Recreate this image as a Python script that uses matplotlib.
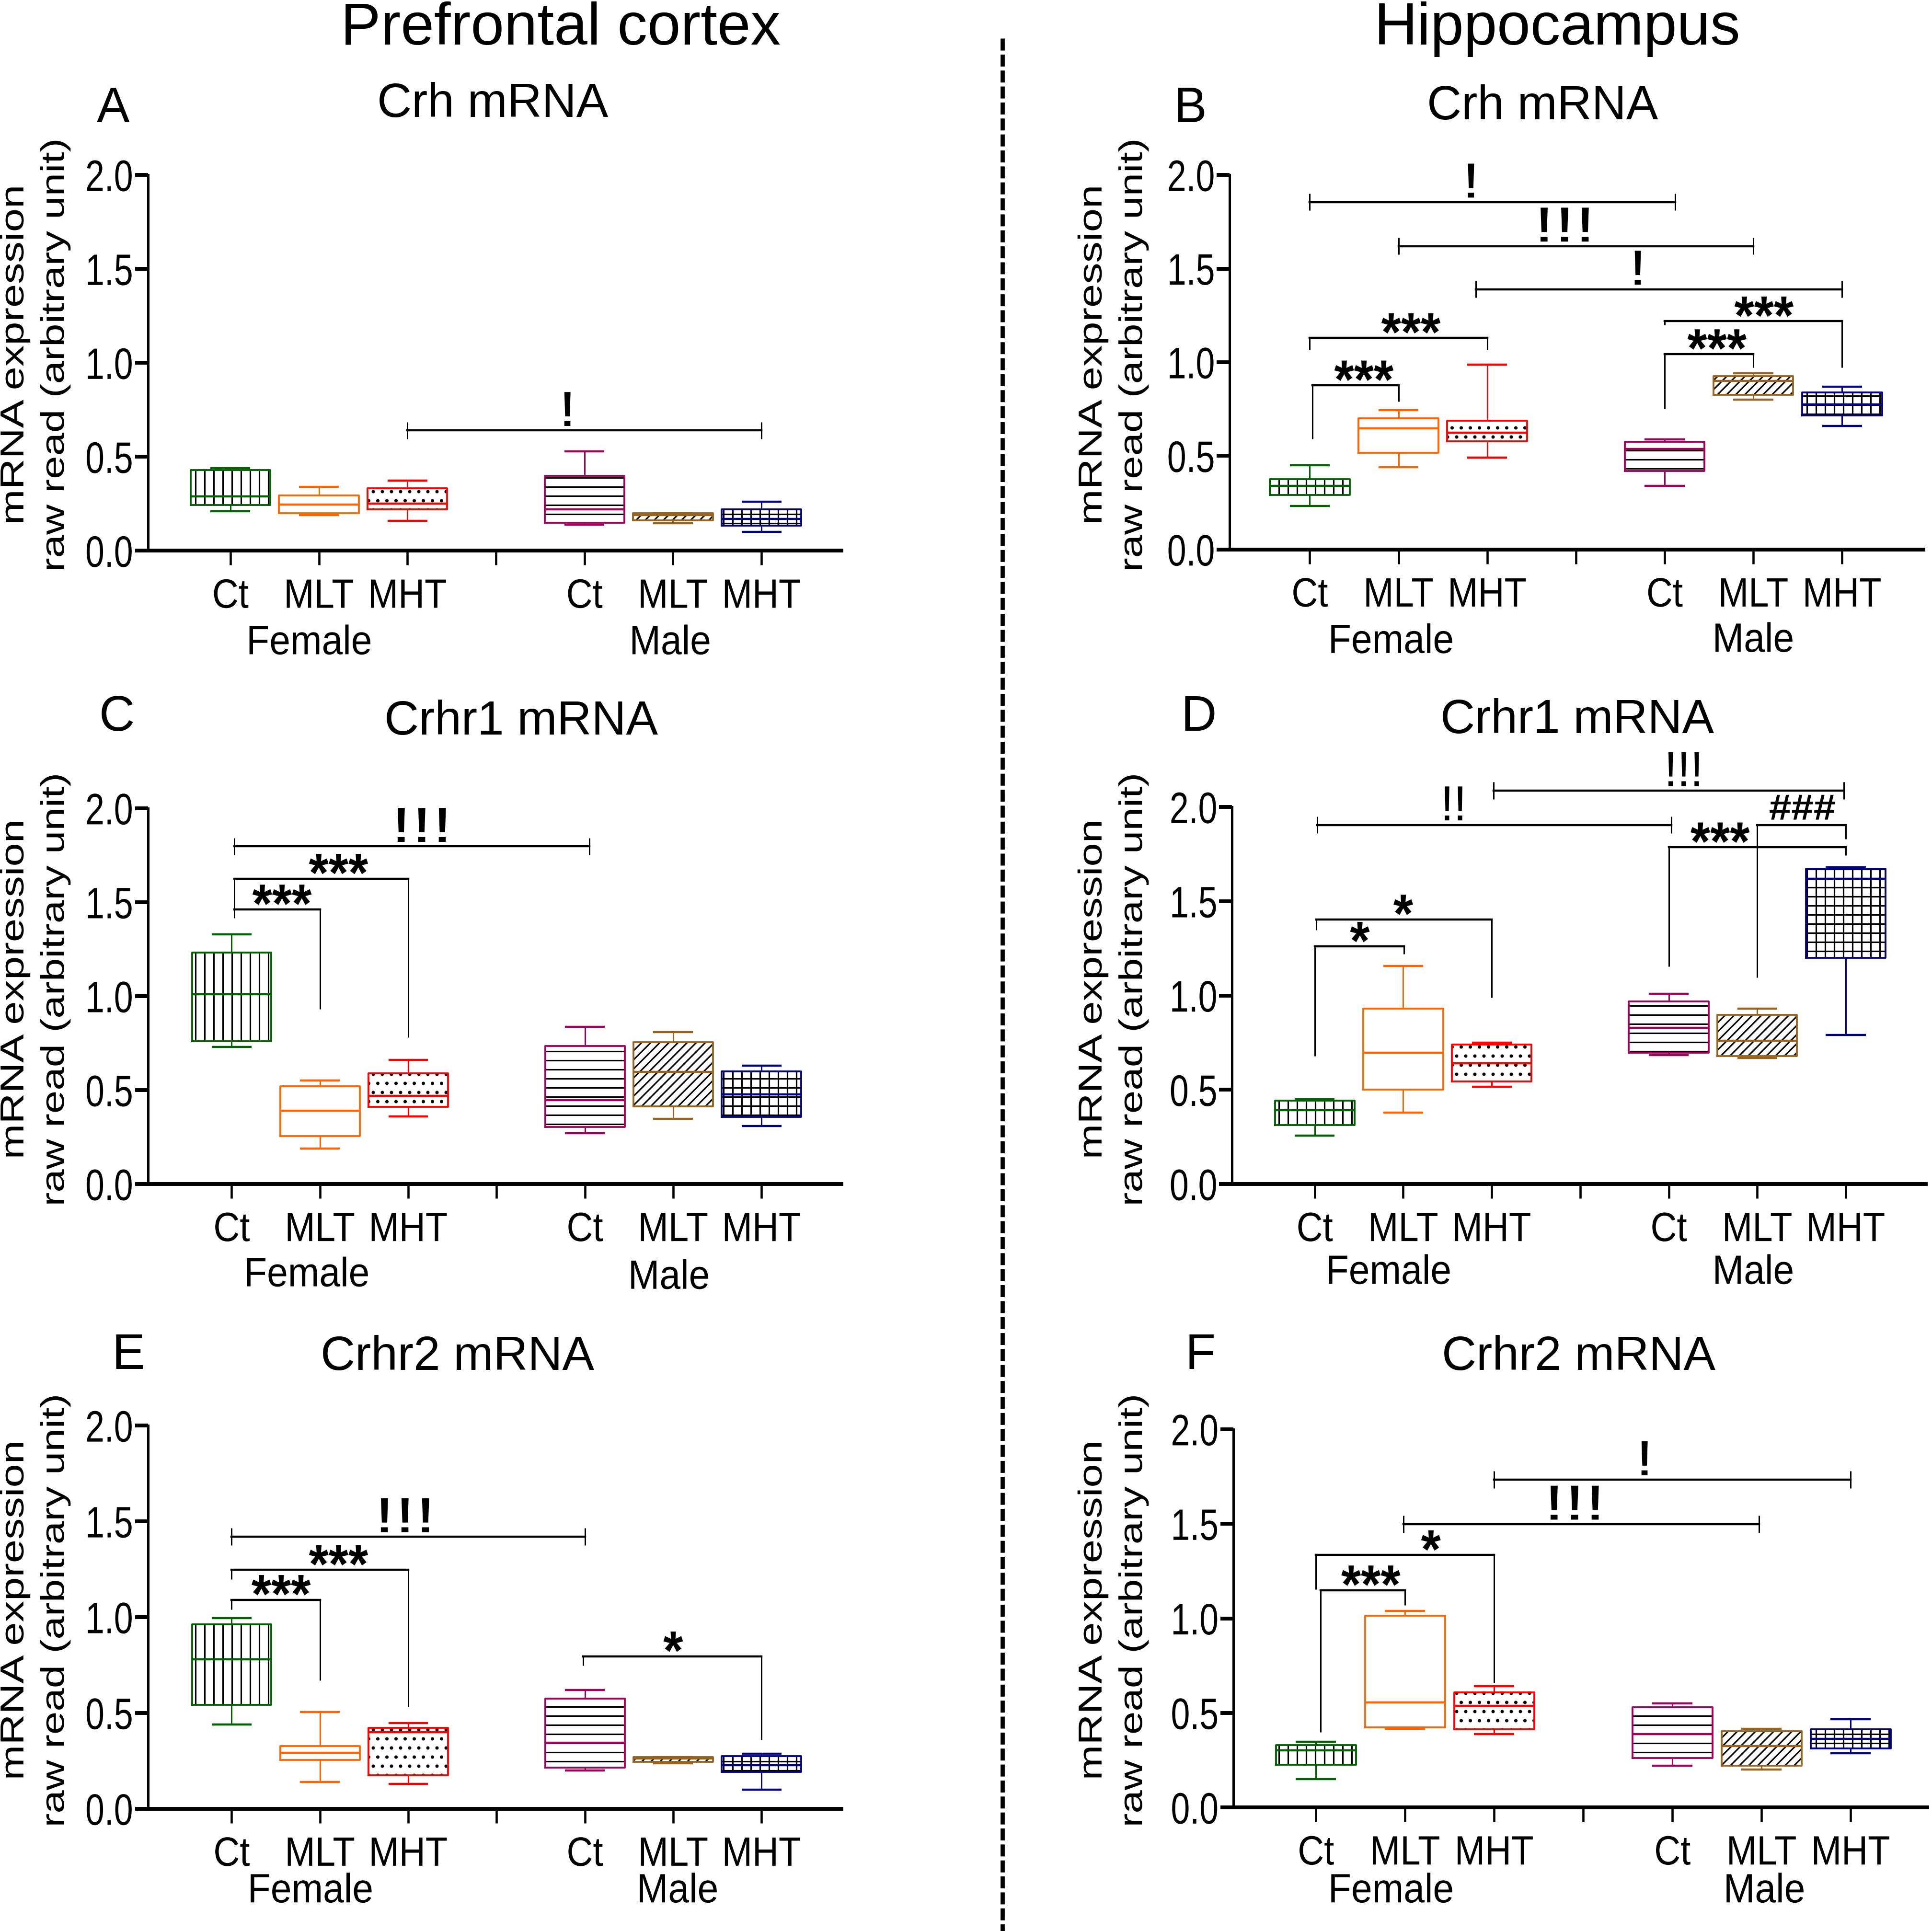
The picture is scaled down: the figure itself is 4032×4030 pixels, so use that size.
import matplotlib
matplotlib.use("Agg")
import matplotlib.pyplot as plt
from matplotlib.lines import Line2D
from matplotlib.patheffects import AbstractPathEffect
from matplotlib.transforms import Affine2D

# hatch tile follows the dpi, 114 gives the spacing of the original
DPI = 114
PX_W, PX_H = 4032, 4030
S = PX_W / 1568.0  # all layout numbers below are read on a 1568 wide view

plt.rcParams["font.family"] = ["Liberation Sans", "DejaVu Sans"]
plt.rcParams["hatch.linewidth"] = 2.0

groups = ["Ct", "MLT", "MHT", "", "Ct", "MLT", "MHT"]
positions = [1, 2, 3, 5, 6, 7]
colors = ["#005F00", "#FF6600", "#FF0000", "#A0005A", "#966420", "#000080"]
hatches = ["|", "", ".", "-", "//", "+"]

a_low = [0.21, 0.19, 0.16, 0.14, 0.147, 0.10]
a_q1 = [0.243, 0.20, 0.22, 0.15, 0.163, 0.134]
a_med = [0.29, 0.245, 0.25, 0.22, 0.19, 0.17]
a_q3 = [0.43, 0.295, 0.333, 0.40, 0.20, 0.22]
a_high = [0.44, 0.34, 0.374, 0.53, 0.20, 0.26]

b_low = [0.233, 0.439, 0.49, 0.34, 0.80, 0.66]
b_q1 = [0.292, 0.517, 0.577, 0.42, 0.825, 0.716]
b_med = [0.34, 0.646, 0.623, 0.537, 0.90, 0.775]
b_q3 = [0.376, 0.70, 0.688, 0.575, 0.927, 0.838]
b_high = [0.449, 0.745, 0.988, 0.589, 0.94, 0.87]

c_low = [0.73, 0.19, 0.36, 0.27, 0.347, 0.31]
c_q1 = [0.76, 0.256, 0.41, 0.304, 0.413, 0.357]
c_med = [1.01, 0.39, 0.47, 0.446, 0.597, 0.478]
c_q3 = [1.233, 0.52, 0.59, 0.735, 0.754, 0.60]
c_high = [1.33, 0.55, 0.66, 0.837, 0.81, 0.629]

d_low = [0.258, 0.378, 0.517, 0.685, 0.67, 0.79]
d_q1 = [0.312, 0.50, 0.544, 0.697, 0.68, 1.20]
d_med = [0.393, 0.697, 0.64, 0.83, 0.76, 1.62]
d_q3 = [0.443, 0.93, 0.74, 0.97, 0.898, 1.673]
d_high = [0.45, 1.158, 0.75, 1.01, 0.93, 1.68]

e_low = [0.44, 0.14, 0.129, 0.20, 0.238, 0.10]
e_q1 = [0.543, 0.255, 0.175, 0.214, 0.245, 0.192]
e_med = [0.78, 0.293, 0.40, 0.346, 0.263, 0.227]
e_q3 = [0.962, 0.328, 0.423, 0.575, 0.269, 0.275]
e_high = [0.996, 0.504, 0.447, 0.62, 0.27, 0.288]

f_low = [0.15, 0.416, 0.388, 0.22, 0.20, 0.287]
f_q1 = [0.225, 0.425, 0.413, 0.261, 0.222, 0.312]
f_med = [0.301, 0.556, 0.539, 0.389, 0.325, 0.362]
f_q3 = [0.331, 1.013, 0.609, 0.53, 0.404, 0.413]
f_high = [0.348, 1.039, 0.641, 0.55, 0.417, 0.468]

# capped brackets: x1, x2, y, label, label x, label stretch
a_caps = [(3, 7, 0.64, "!", 4.80, 1.3)]
b_caps = [(1, 5.12, 1.855, "!", 2.81, 1.3), (2, 6, 1.62, "!!!", 3.86, 1.5), (2.87, 7, 1.39, "!", 4.69, 1.3)]
c_caps = [(1.03, 5.05, 1.797, "!!!", 3.14, 1.5)]
d_caps = [(1.03, 5.03, 1.905, "!!", 2.57, 0.95), (3.02, 6.98, 2.087, "!!!", 5.17, 0.95)]
e_caps = [(1, 5, 1.42, "!!!", 2.95, 1.5)]
f_caps = [(3, 7, 1.733, "!", 4.68, 1.3), (1.98, 5.97, 1.498, "!!!", 3.89, 1.5)]

# square brackets: x1, x2, y, left leg end, right leg end, label, label x
a_legs = []
b_legs = [(1.03, 2, 0.877, 0.59, 0.79, "***", 1.61), (1, 3, 1.13, 1.067, 1.067, "***", 2.14),
          (5, 6, 1.044, 0.752, 0.972, "***", 5.59), (5, 7, 1.219, 1.2, 0.972, "***", 6.12)]
c_legs = [(1.03, 2, 1.462, 1.416, 0.93, "***", 1.57), (1.03, 3, 1.626, 1.46, 0.78, "***", 2.21)]
d_legs = [(1, 2.01, 1.26, 0.68, 1.22, "*", 1.51), (1.02, 3, 1.404, 1.347, 0.99, "*", 2.0),
          (5, 7, 1.787, 1.154, 1.744, "***", 5.58), (6, 7, 1.905, 1.096, 1.83, "###", 6.51)]
e_legs = [(1, 2, 1.091, 1.04, 0.67, "***", 1.56), (1, 3, 1.247, 1.197, 0.532, "***", 2.21),
          (4.98, 7, 0.796, 0.747, 0.36, "*", 6.0)]
f_legs = [(1, 3, 1.335, 1.153, 0.66, "*", 2.29), (1.05, 2, 1.149, 0.399, 1.07, "***", 1.616)]

# axis x, x of first tick, x of last tick, y of 0.0, y of 2.0 on the 1568 view
a_box = (120, 187, 618, 447, 142)
b_box = (998, 1063, 1495, 446, 142)
c_box = (120, 188, 618, 961, 656)
d_box = (1000, 1067, 1498, 961, 655)
e_box = (120, 188, 618, 1468, 1157)
f_box = (1001, 1068, 1502, 1467, 1160)

panels = [
    (a_box, a_low, a_q1, a_med, a_q3, a_high, a_caps, a_legs, "A", (92, 99), "Crh mRNA", (400, 95), (251, 531), (544, 531), (12, 45, 288)),
    (b_box, b_low, b_q1, b_med, b_q3, b_high, b_caps, b_legs, "B", (966, 99), "Crh mRNA", (1252, 97), (1129, 530), (1423, 529), (887, 920, 288)),
    (c_box, c_low, c_q1, c_med, c_q3, c_high, c_caps, c_legs, "C", (95, 593), "Crhr1 mRNA", (423, 596), (249, 1044), (543, 1046), (12, 45, 803)),
    (d_box, d_low, d_q1, d_med, d_q3, d_high, d_caps, d_legs, "D", (973, 593), "Crhr1 mRNA", (1280, 595), (1127, 1042), (1423, 1042), (887, 920, 803)),
    (e_box, e_low, e_q1, e_med, e_q3, e_high, e_caps, e_legs, "E", (104, 1111), "Crhr2 mRNA", (371, 1112), (252, 1544), (550, 1544), (12, 45, 1307)),
    (f_box, f_low, f_q1, f_med, f_q3, f_high, f_caps, f_legs, "F", (974, 1111), "Crhr2 mRNA", (1281, 1112), (1129, 1544), (1432, 1544), (887, 920, 1307)),
]


class Stretch(AbstractPathEffect):
    # the original picture is squeezed sideways, text has to follow
    def __init__(self, sx, anchor="center"):
        super().__init__()
        self.sx = sx
        self.anchor = anchor

    def draw_path(self, renderer, gc, tpath, affine, rgbFace=None):
        xs = affine.transform(tpath.vertices)[:, 0]
        x0 = xs.max() if self.anchor == "right" else (xs.min() + xs.max()) / 2
        squeeze = Affine2D().translate(-x0, 0).scale(self.sx, 1).translate(x0, 0)
        renderer.draw_path(gc, tpath, affine + squeeze, rgbFace)


fig = plt.figure(figsize=(PX_W / DPI, PX_H / DPI), dpi=DPI)


def put(x, y, text, sx=1.0, **kw):
    kw.setdefault("ha", "center")
    kw.setdefault("va", "baseline")
    t = fig.text(x * S / PX_W, 1 - y * S / PX_H, text, **kw)
    if sx != 1.0:
        t.set_path_effects([Stretch(sx)])


def draw_boxes(ax, low, q1, med, q3, high):
    for i, pos in enumerate(positions):
        stats = [{"med": med[i], "q1": q1[i], "q3": q3[i], "whislo": low[i], "whishi": high[i], "fliers": []}]
        # hatch layer first, then the coloured outline over it
        ax.bxp(stats, positions=[pos], widths=0.9, patch_artist=True, showfliers=False, showcaps=False,
               manage_ticks=False, whiskerprops={"linewidth": 0}, medianprops={"linewidth": 0},
               boxprops={"facecolor": "white", "edgecolor": "black", "linewidth": 0, "hatch": hatches[i]})
        thin = {"color": colors[i], "linewidth": 1.9, "solid_capstyle": "butt"}
        thick = {"color": colors[i], "linewidth": 2.8, "solid_capstyle": "butt"}
        box = {"color": colors[i], "linewidth": 2.4}
        ax.bxp(stats, positions=[pos], widths=0.9, showfliers=False, capwidths=0.45, manage_ticks=False,
               boxprops=box, whiskerprops=thin, capprops=thick, medianprops=thick)


def draw_brackets(ax, caps, legs):
    hor = {"color": "black", "linewidth": 2.8, "clip_on": False, "solid_capstyle": "projecting"}
    ver = {"color": "black", "linewidth": 1.9, "clip_on": False, "solid_capstyle": "butt"}
    for x1, x2, y, label, lx, sx in caps:
        ax.plot([x1, x2], [y, y], **hor)
        ax.plot([x1, x1], [y - 0.045, y + 0.045], **ver)
        ax.plot([x2, x2], [y - 0.045, y + 0.045], **ver)
        t = ax.annotate(label, (lx, y), xytext=(0, 6), textcoords="offset points", ha="center", va="baseline",
                        fontsize=65, annotation_clip=False)
        t.set_path_effects([Stretch(sx)])
    for x1, x2, y, left, right, label, lx in legs:
        ax.plot([x1, x2], [y, y], **hor)
        ax.plot([x1, x1], [left, y], **ver)
        ax.plot([x2, x2], [right, y], **ver)
        if label.startswith("#"):
            t = ax.annotate(label, (lx, y), xytext=(0, 7), textcoords="offset points", ha="center", va="baseline",
                            fontsize=48, fontweight="bold", annotation_clip=False)
            t.set_path_effects([Stretch(1.1)])
        else:
            t = ax.annotate(label, (lx, y), xytext=(0, -17), textcoords="offset points", ha="center", va="baseline",
                            fontsize=72, fontweight="bold", annotation_clip=False)
            t.set_path_effects([Stretch(0.93)])


for box, low, q1, med, q3, high, caps, legs, letter, letter_xy, title, title_xy, female_xy, male_xy, ylab in panels:
    x_axis, x_first, x_last, y_zero, y_two = box
    step = (x_last - x_first) / 6.0
    x_end = x_axis + 563.0
    ax = fig.add_axes([x_axis * S / PX_W, 1 - y_zero * S / PX_H,
                       (x_end - x_axis) * S / PX_W, (y_zero - y_two) * S / PX_H])
    ax.set_xlim(1 + (x_axis - x_first) / step, 1 + (x_end - x_first) / step)
    ax.set_ylim(0, 2)
    ax.patch.set_alpha(0)
    draw_boxes(ax, low, q1, med, q3, high)
    draw_brackets(ax, caps, legs)

    ax.spines["top"].set_visible(False)
    ax.spines["right"].set_visible(False)
    ax.spines["left"].set_linewidth(3.2)
    ax.spines["bottom"].set_linewidth(5.0)
    ax.set_yticks([0, 0.5, 1.0, 1.5, 2.0])
    ylabels = ax.set_yticklabels(["0.0", "0.5", "1.0", "1.5", "2.0"], fontsize=58)
    for t in ylabels:
        t.set_path_effects([Stretch(0.78, "right")])
    ax.set_xticks(range(1, 8))
    xlabels = ax.set_xticklabels(groups, fontsize=54)
    for t in xlabels:
        t.set_path_effects([Stretch(0.89)])
    ax.tick_params(axis="y", length=17, width=5.0, pad=2)
    ax.tick_params(axis="x", length=19, width=2.9, pad=17)

    put(letter_xy[0], letter_xy[1], letter, fontsize=65)
    put(title_xy[0], title_xy[1], title, fontsize=63)
    put(female_xy[0], female_xy[1], "Female", fontsize=54, sx=0.92)
    put(male_xy[0], male_xy[1], "Male", fontsize=54, sx=0.92)
    put(ylab[0], ylab[2], "mRNA expression", fontsize=56, sx=0.78, rotation=90, va="center", rotation_mode="anchor")
    put(ylab[1], ylab[2], "raw read (arbitrary unit)", fontsize=55, sx=0.78, rotation=90, va="center", rotation_mode="anchor")

put(455, 36, "Prefrontal cortex", fontsize=79)
put(1264, 36, "Hippocampus", fontsize=79)

divider_x = 2092.0 / PX_W
fig.add_artist(Line2D([divider_x, divider_x], [1 - 80.0 / PX_H, 0], color="black", linewidth=5.5,
                      linestyle=(0, (2.87, 0.96)), transform=fig.transFigure))

fig.savefig("out.png", dpi=DPI)
